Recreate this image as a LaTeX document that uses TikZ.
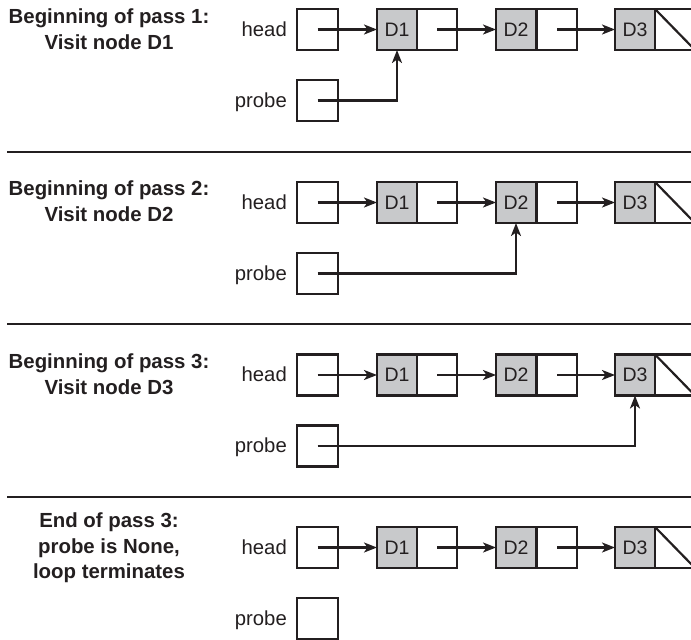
\documentclass[tikz,border=0pt]{standalone}
\usepackage{fontspec}
\setmainfont{Liberation Sans}
\usetikzlibrary{arrows.meta}
\definecolor{cellgray}{RGB}{200,201,203}
\definecolor{ink}{RGB}{35,31,32}
\begin{document}
\begin{tikzpicture}[x=1pt,y=-1pt,
  cell/.style={draw=ink, line width=2.4pt, minimum width=40pt, minimum height=41pt,
    inner sep=0pt, outer sep=0pt, anchor=north west, text=ink,
    font=\fontsize{19.5}{20}\selectfont},
  datacell/.style={cell, fill=cellgray},
  varbox/.style={cell, minimum width=41pt},
  lbl/.style={anchor=base east, inner sep=0pt, text=ink, font=\fontsize{20.3}{22}\selectfont},
  ttl/.style={align=center, inner sep=0pt, text=ink, font=\bfseries\fontsize{20.4}{25.5}\selectfont},
  ptr/.style={draw=ink, line width=2.2pt, -{Stealth[length=13pt,width=10pt,inset=3.5pt]}},
  sepline/.style={draw=ink, line width=2.8pt}]
\useasboundingbox (0,0) rectangle (691,640);
\foreach \i/\T in {1/9, 2/182, 3/354.5, 4/527} {
  \node[varbox] (h\i) at (297,\T) {};
  \node[varbox] (p\i) at (297,\T+71) {};
  \node[datacell] (a\i) at (377,\T) {D1};
  \node[cell] (an\i) at (417,\T) {};
  \node[datacell] (b\i) at (496,\T) {D2};
  \node[cell] (bn\i) at (537,\T) {};
  \node[datacell] (c\i) at (615,\T) {D3};
  \node[cell] (cn\i) at (655,\T) {};
  \draw[draw=ink, line width=2.2pt] (cn\i.north west) -- (cn\i.south east);
  \node[lbl] (hl\i) at (287,\T+27) {head};
  \node[lbl] (pl\i) at (287,\T+98) {probe};
  \draw[ptr] (h\i.center) -- (a\i.west);
  \draw[ptr] (an\i.center) -- (b\i.west);
  \draw[ptr] (bn\i.center) -- (c\i.west);
}
\foreach \y in {152, 324, 497} {
  \coordinate (sl\y) at (7,\y);
  \coordinate (sr\y) at (691,\y);
  \draw[sepline] (sl\y) -- (sr\y);
}
\draw[ptr] (p1.center) -| (a1.south);
\draw[ptr] (p2.center) -| (b2.south);
\draw[ptr] (p3.center) -| (c3.south);
\node[ttl] (t1) at (109,29) {Beginning of pass 1:\\Visit node D1};
\node[ttl] (t2) at (109,201) {Beginning of pass 2:\\Visit node D2};
\node[ttl] (t3) at (109,374) {Beginning of pass 3:\\Visit node D3};
\node[ttl] (t4) at (109,548) {End of pass 3:\\probe is None,\\loop terminates};
\end{tikzpicture}
\end{document}
